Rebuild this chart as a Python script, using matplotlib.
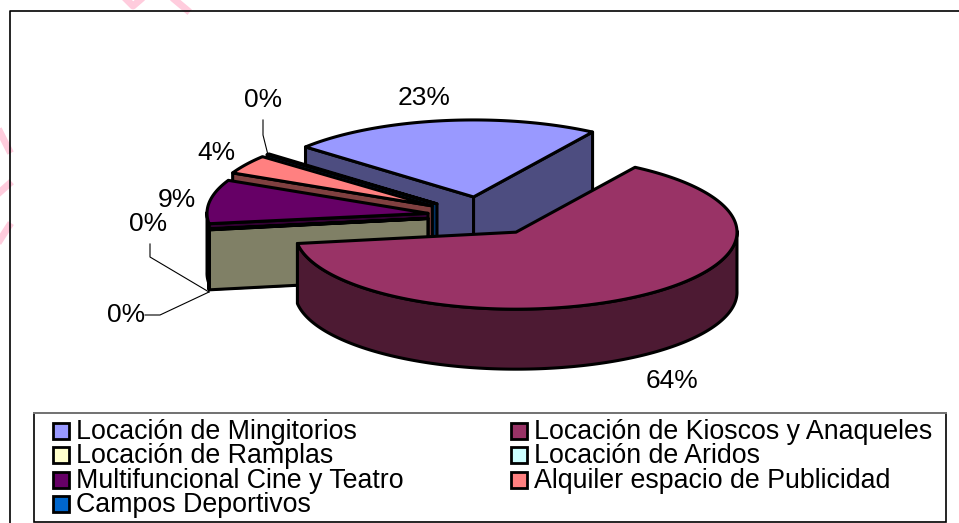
import numpy as np
import matplotlib
matplotlib.use("Agg")
import matplotlib.pyplot as plt
from matplotlib.patches import Polygon, Rectangle

plt.rcParams['font.family'] = ['Liberation Sans', 'DejaVu Sans']

names = ['Locación de Mingitorios', 'Locación de Kioscos y Anaqueles',
         'Locación de Ramplas', 'Locación de Aridos',
         'Multifuncional Cine y Teatro', 'Alquiler espacio de Publicidad',
         'Campos Deportivos']
values = [22.8, 63.6, 0.1, 0.1, 9.2, 4.0, 0.2]
top_colors = ['#9999FF', '#993366', '#FFFFCC', '#CCFFFF', '#660066', '#FF8080', '#0066CC']
side_colors = ['#4D4D80', '#4D1A33', '#808066', '#668080', '#330033', '#804040', '#003366']

# pie geometry, in pixels of the picture
cx, cy = 482.6, 216
rx, ry = 221, 77
depth = 60
explode = [0.278, 0.278, 0.25, 0.25, 0.25, 0.27, 0.27]
start = -49.5

fig = plt.figure(figsize=(9.59, 5.23), dpi=100)
ax = fig.add_axes([0, 0, 1, 1])
ax.set_xlim(0, 959)
ax.set_ylim(523, 0)
ax.axis('off')

# watermark bits behind the chart
for xs, ys in [([127, 133, 140], [0, 6, 0]), ([175, 187], [0, 10]),
               ([0, 9], [132, 150]), ([0, 9], [192, 184]), ([0, 9], [240, 226])]:
    ax.plot(xs, ys, color='#FFCCDD', lw=5, zorder=0)

# chart frame
ax.plot([9.5, 9.5, 959], [523, 10.5, 10.5], color='black', lw=1.2, zorder=1)


def rim(a, ax0, ay0):
    t = np.radians(a)
    return ax0 + rx * np.sin(t), ay0 - ry * np.cos(t)


angles = start + np.concatenate([[0], np.cumsum(values)]) * 3.6

slices = []
for i in range(len(values)):
    a0, a1 = angles[i], angles[i + 1]
    mid = np.radians((a0 + a1) / 2)
    slices.append((i, a0, a1, cx + explode[i] * rx * np.sin(mid), cy - 0.9 * explode[i] * ry * np.cos(mid)))


def draw_slice(i, a0, a1, px, py):
    top = top_colors[i]
    side = side_colors[i]
    arc = np.linspace(a0, a1, max(int(a1 - a0) * 2, 3))
    xs, ys = rim(arc, px, py)
    kw = dict(edgecolor='black', lw=2.2, joinstyle='round', zorder=3)
    # cut faces, only those turned to the viewer
    faces = []
    if np.sin(np.radians(a0)) < 0:
        faces.append(a0)
    if np.sin(np.radians(a1)) > 0:
        faces.append(a1)
    for a in faces:
        x1, y1 = rim(a, px, py)
        ax.add_patch(Polygon([(px, py), (x1, y1), (x1, y1 + depth), (px, py + depth)], facecolor=side, **kw))
    # outer wall, same thing
    front = arc[np.cos(np.radians(arc)) <= 0.02]
    if len(front) > 1:
        fx, fy = rim(front, px, py)
        wall = list(zip(fx, fy)) + list(zip(fx[::-1], fy[::-1] + depth))
        ax.add_patch(Polygon(wall, facecolor=side, **kw))
    ax.add_patch(Polygon([(px, py)] + list(zip(xs, ys)), facecolor=top, **kw))


# far slices first, the big front slice last
for k in [0, 6, 5, 4, 3, 2, 1]:
    draw_slice(*slices[k])

# percentage labels
label_pos = [(424, 98), (672, 381), (126, 315), (148, 224), (177, 200), (216, 153), (263, 100)]
for v, (x, y) in zip(values, label_pos):
    ax.text(x, y, f'{v:.0f}%', ha='center', va='center', fontsize=19, color='black', zorder=5)

# leader lines
for xs, ys in [([209, 160, 145], [292, 315, 315]),
               ([209, 150, 150], [292, 257, 244]),
               ([268, 263, 263], [155, 135, 120])]:
    ax.plot(xs, ys, color='black', lw=0.8, zorder=4)

# legend
ax.add_patch(Rectangle((33.5, 412.5), 912.5, 109.5, facecolor='white', edgecolor='black', lw=1.2, zorder=4))
ax.plot([33.5, 946], [412.5, 412.5], color='#777777', lw=1.4, zorder=4)
col_x = [52, 510]
row_y = [431, 455, 480, 504]
for i, name in enumerate(names):
    x = col_x[i % 2]
    y = row_y[i // 2]
    ax.add_patch(Rectangle((x + 1, y - 8), 16, 16, facecolor=top_colors[i], edgecolor='black', lw=2, zorder=5))
    ax.text(x + 24, y + 1, name, ha='left', va='center', fontsize=19.3, color='black', zorder=5)

fig.savefig('out.png', dpi=100)
